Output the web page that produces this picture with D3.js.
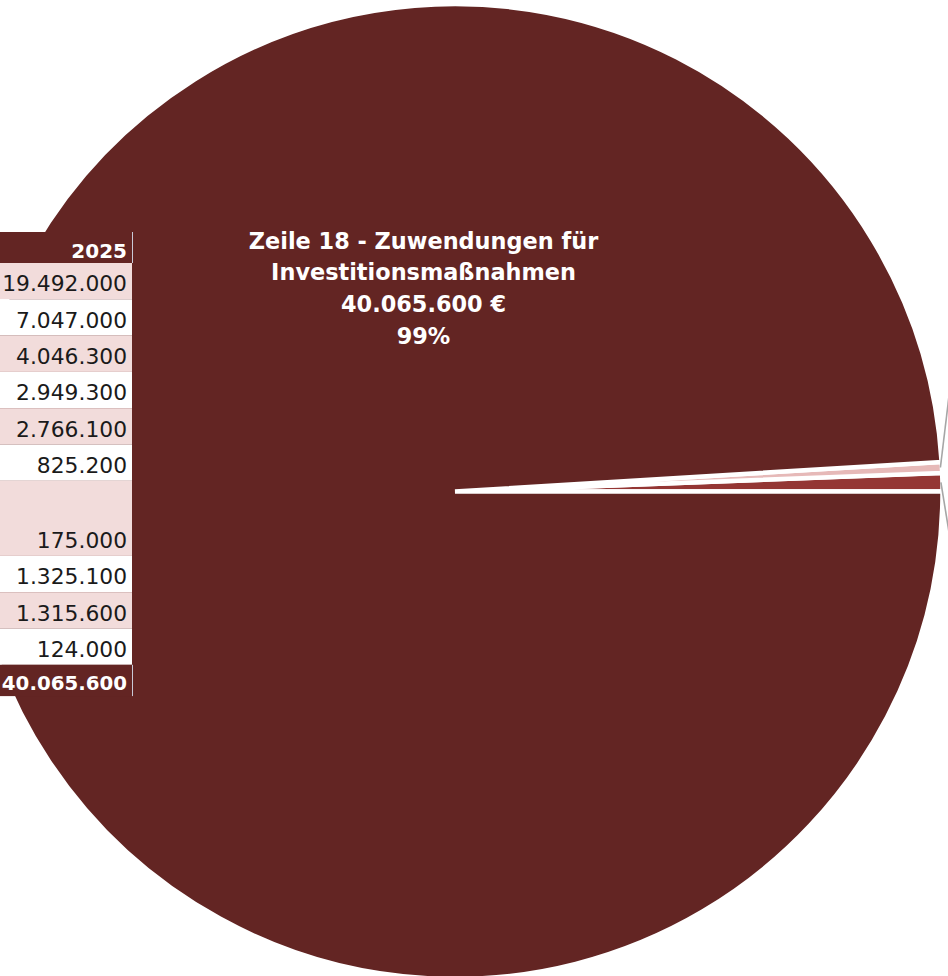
<!DOCTYPE html>
<html>
<head>
<meta charset="utf-8">
<script src="https://cdn.jsdelivr.net/npm/d3@7/dist/d3.min.js"></script>
<style>
  html, body { margin: 0; padding: 0; background: #ffffff; overflow: hidden; }
  svg { display: block; }
</style>
</head>
<body>
<svg id="chart" width="948" height="976"></svg>
<script>
// ---------- data ----------
const sliceNames = ["Sonstige A", "Sonstige B", "Zeile 18 - Zuwendungen für Investitionsmaßnahmen"];
const sliceValues = [245000, 146000, 40065600];
const sliceColors = ["#943634", "#e6b9b8", "#632523"];

const tableHeader = "2025";
const tableValues = ["19.492.000", "7.047.000", "4.046.300", "2.949.300", "2.766.100", "825.200", "175.000", "1.325.100", "1.315.600", "124.000"];
const tableRowSpan = [1, 1, 1, 1, 1, 1, 2, 1, 1, 1];
const tableTotal = "40.065.600";

// ---------- layout ----------
const W = 948, H = 976;
const cx = 455, cy = 491.5, R = 487.5;
const svg = d3.select("#chart");

const slices = sliceNames.map((n, i) => ({ name: n, value: sliceValues[i], color: sliceColors[i] }));
const total = d3.sum(sliceValues);

const pie = d3.pie()
  .value(d => d.value)
  .sort(null)
  .startAngle(Math.PI / 2)
  .endAngle(Math.PI / 2 - 2 * Math.PI);

const arcs = pie(slices);
const arc = d3.arc().innerRadius(0).outerRadius(R);

const g = svg.append("g").attr("transform", `translate(${cx},${cy})`);

g.selectAll("path.slice")
  .data(arcs)
  .join("path")
  .attr("class", "slice")
  .attr("d", arc)
  .attr("fill", d => d.data.color)
  .attr("stroke", "#ffffff")
  .attr("stroke-width", 4.5)
  .attr("stroke-linejoin", "miter");

// leader lines for the small slices (labels lie outside the visible area)
const leaderOffsets = [[12, 74], [12, -100]];
arcs.slice(0, 2).forEach((a, i) => {
  const mid = (a.startAngle + a.endAngle) / 2;
  const x0 = Math.sin(mid) * (R - 1.5);
  const y0 = -Math.cos(mid) * (R - 1.5);
  g.append("line")
    .attr("x1", x0).attr("y1", y0)
    .attr("x2", x0 + leaderOffsets[i][0]).attr("y2", y0 + leaderOffsets[i][1])
    .attr("stroke", "#a6a6a6")
    .attr("stroke-width", 1.6);
});

// big slice label
const big = arcs[2];
const pct = Math.round(big.data.value / total * 100);
const fmt = v => d3.format(",")(v).replace(/,/g, ".");
const labelLines = ["Zeile 18 - Zuwendungen für", "Investitionsmaßnahmen", fmt(big.data.value) + " €", pct + "%"];
const label = svg.append("text")
  .attr("font-family", "'DejaVu Sans', sans-serif")
  .attr("font-weight", "bold")
  .attr("font-size", 22.4)
  .attr("fill", "#ffffff")
  .attr("text-anchor", "middle");
labelLines.forEach((t, i) => {
  label.append("tspan")
    .attr("x", cx - 31.5)
    .attr("y", 248.5 + i * 31.7)
    .text(t);
});

// ---------- table ----------
const tableRight = 132;
const tableLeft = -20;
const tbl = svg.append("g");
let y = 232;
const headerH = 31, rowH = 36.3, totalH = 31.3;

tbl.append("rect")
  .attr("x", tableLeft).attr("y", y)
  .attr("width", tableRight - tableLeft).attr("height", headerH)
  .attr("fill", "#632523");
tbl.append("text")
  .attr("x", tableRight - 5).attr("y", y + headerH - 4.7)
  .attr("text-anchor", "end")
  .attr("font-family", "'DejaVu Sans', sans-serif")
  .attr("font-weight", "bold")
  .attr("font-size", 20)
  .attr("fill", "#ffffff")
  .text(tableHeader);
tbl.append("line")
  .attr("x1", tableRight + 0.5).attr("x2", tableRight + 0.5)
  .attr("y1", y).attr("y2", y + headerH)
  .attr("stroke", "#c9c9d6").attr("stroke-width", 1);
y += headerH;

tableValues.forEach((v, i) => {
  const h = rowH * tableRowSpan[i] + (tableRowSpan[i] > 1 ? 2.5 : 0);
  tbl.append("rect")
    .attr("x", tableLeft).attr("y", y)
    .attr("width", tableRight - tableLeft).attr("height", h)
    .attr("fill", i % 2 === 0 ? "#f2dcdb" : "#ffffff");
  tbl.append("text")
    .attr("x", tableRight - 5).attr("y", y + h - 8)
    .attr("text-anchor", "end")
    .attr("font-family", "'DejaVu Sans', sans-serif")
    .attr("font-size", 21.8)
    .attr("fill", "#1a1a1a")
    .text(v);
  y += h;
});

tbl.append("rect")
  .attr("x", tableLeft).attr("y", y)
  .attr("width", tableRight - tableLeft).attr("height", totalH)
  .attr("fill", "#632523");
tbl.append("text")
  .attr("x", tableRight - 5).attr("y", y + totalH - 6.3)
  .attr("text-anchor", "end")
  .attr("font-family", "'DejaVu Sans', sans-serif")
  .attr("font-weight", "bold")
  .attr("font-size", 19.8)
  .attr("fill", "#ffffff")
  .text(tableTotal);
tbl.append("line")
  .attr("x1", tableRight + 0.5).attr("x2", tableRight + 0.5)
  .attr("y1", y).attr("y2", y + totalH)
  .attr("stroke", "#c9c9d6").attr("stroke-width", 1);
</script>
</body>
</html>
